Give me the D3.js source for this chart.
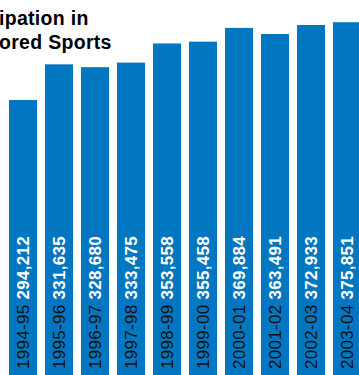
<!DOCTYPE html>
<html>
<head>
<meta charset="utf-8">
<script src="https://cdn.jsdelivr.net/npm/d3@7"></script>
<style>
  html, body { margin: 0; padding: 0; background: #fff; overflow: hidden; }
  svg { display: block; font-family: "Liberation Sans", Arial, Helvetica, sans-serif; }
</style>
</head>
<body>
<div id="chart"></div>
<script>
// seasons and participation counts
var seasons = ['1994-95', '1995-96', '1996-97', '1997-98', '1998-99',
               '1999-00', '2000-01', '2001-02', '2002-03', '2003-04'];
var participants = [294212, 331635, 328680, 333475, 353558,
                    355458, 369884, 363491, 372933, 375851];
var titleLines = ['ipation in', 'ored Sports'];

var width = 359, height = 375;
var barColor = '#0077c0';

var svg = d3.select('#chart')
    .append('svg')
    .attr('width', width)
    .attr('height', height);

var x = d3.scaleBand()
    .domain(seasons)
    .range([9, 361])
    .paddingInner(0.222)
    .paddingOuter(0);

// zero sits just below the visible area (chart is cropped)
var y = d3.scaleLinear()
    .domain([0, 400000])
    .range([380.4, -0.8]);

var fmt = d3.format(',');

var data = seasons.map(function (s, i) { return {season: s, value: participants[i]}; });

svg.selectAll('rect.bar')
    .data(data)
    .enter().append('rect')
    .attr('class', 'bar')
    .attr('x', function (d) { return x(d.season); })
    .attr('y', function (d) { return y(d.value); })
    .attr('width', x.bandwidth())
    .attr('height', function (d) { return y(0) - y(d.value); })
    .attr('fill', barColor);

// rotated labels inside the bars
var labels = svg.selectAll('text.lbl')
    .data(data)
    .enter().append('text')
    .attr('class', 'lbl')
    .attr('transform', function (d) {
        return 'translate(' + (x(d.season) + 20) + ',369) rotate(-90)';
    })
    .style('font-size', '17px')
    .style('letter-spacing', '0.3px');

labels.append('tspan')
    .attr('fill', '#111')
    .text(function (d) { return d.season + ' '; });

labels.append('tspan')
    .attr('fill', '#fff')
    .attr('font-weight', 'bold')
    .text(function (d) { return fmt(d.value); });

// title (cropped on the left in the original)
svg.selectAll('text.title')
    .data(titleLines)
    .enter().append('text')
    .attr('class', 'title')
    .attr('x', -1)
    .attr('y', function (d, i) { return 25 + i * 24; })
    .attr('fill', '#000')
    .attr('font-weight', 'bold')
    .style('font-size', '19.5px')
    .style('letter-spacing', '0.3px')
    .text(function (d) { return d; });
</script>
</body>
</html>
